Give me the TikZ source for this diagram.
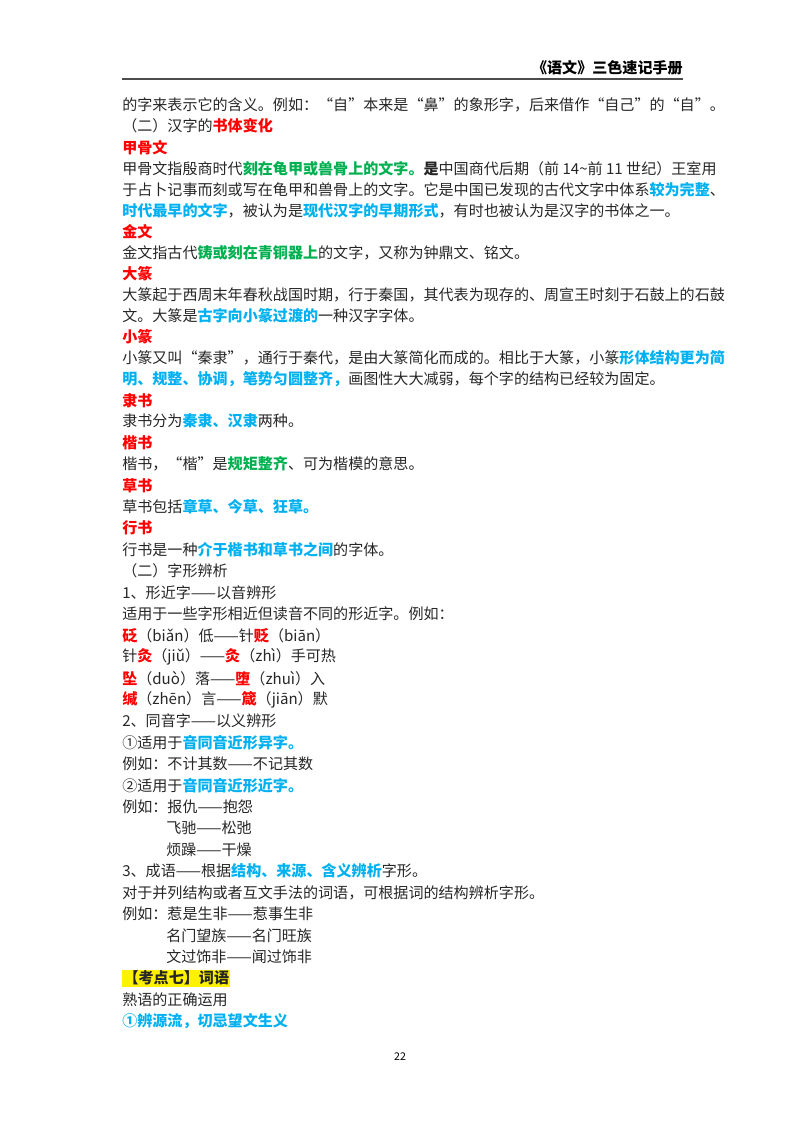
\documentclass[tikz,border=0pt]{standalone}
\usepackage{fontspec}
\setmainfont{Noto Sans CJK SC}
\definecolor{rd}{RGB}{255,0,0}
\definecolor{gr}{RGB}{0,176,80}
\definecolor{bl}{RGB}{0,176,240}
\newcommand{\R}[1]{\textcolor{rd}{\bfseries #1}}
\newcommand{\G}[1]{\textcolor{gr}{\bfseries #1}}
\newcommand{\B}[1]{\textcolor{bl}{\bfseries #1}}
\newcommand{\Rr}[1]{\textcolor{rd}{\bfseries #1}}
\setlength{\fboxsep}{1pt}
\begin{document}
\begin{tikzpicture}[x=0.75pt,y=-0.75pt,
  ln/.style={anchor=west,inner sep=0pt,font=\fontsize{11.3pt}{12pt}\selectfont,text=black!85}]
\useasboundingbox (0,0) rectangle (800,1132);
\node[anchor=east,inner sep=0pt,font=\fontsize{11.3pt}{12pt}\selectfont\bfseries] (hd) at (683,68) {《语文》三色速记手册};
\draw[line width=0.8pt,black!70] (122,79) -- (683,79);
\foreach \t [count=\i from 0] in {
 {的字来表示它的含义。例如：“自”本来是“鼻”的象形字，后来借作“自己”的“自”。},
 {（二）汉字的\R{书体变化}},
 {\R{甲骨文}},
 {甲骨文指殷商时代\G{刻在龟甲或兽骨上的文字。}\textbf{是}中国商代后期（前 14\textasciitilde 前 11 世纪）王室用},
 {于占卜记事而刻或写在龟甲和兽骨上的文字。它是中国已发现的古代文字中体系\B{较为完整}、},
 {\B{时代最早的文字}，被认为是\B{现代汉字的早期形式}，有时也被认为是汉字的书体之一。},
 {\R{金文}},
 {金文指古代\G{铸或刻在青铜器上}的文字，又称为钟鼎文、铭文。},
 {\R{大篆}},
 {大篆起于西周末年春秋战国时期，行于秦国，其代表为现存的、周宣王时刻于石鼓上的石鼓},
 {文。大篆是\B{古字向小篆过渡的}一种汉字字体。},
 {\R{小篆}},
 {小篆又叫“秦隶”，通行于秦代，是由大篆简化而成的。相比于大篆，小篆\B{形体结构更为简}},
 {\B{明、规整、协调，笔势匀圆整齐，}画图性大大减弱，每个字的结构已经较为固定。},
 {\R{隶书}}}
 { \node[ln] (a\i) at (122,{105+21.1*\i}) {\t}; }
\foreach \t [count=\i from 0] in {
 {隶书分为\B{秦隶、汉隶}两种。},
 {\R{楷书}},
 {楷书，“楷”是\G{规矩整齐}、可为楷模的意思。},
 {\R{草书}},
 {草书包括\B{章草、今草、狂草。}},
 {\R{行书}},
 {行书是一种\B{介于楷书和草书之间}的字体。},
 {（二）字形辨析},
 {1、形近字——以音辨形},
 {适用于一些字形相近但读音不同的形近字。例如：},
 {\Rr{砭}（biǎn）低——针\Rr{贬}（biān）},
 {针\Rr{灸}（jiǔ）——\Rr{灸}（zhì）手可热},
 {\Rr{坠}（duò）落——\Rr{堕}（zhuì）入},
 {\Rr{缄}（zhēn）言——\Rr{箴}（jiān）默},
 {2、同音字——以义辨形},
 {①适用于\B{音同音近形异字。}},
 {例如：不计其数——不记其数},
 {②适用于\B{音同音近形近字。}},
 {例如：报仇——抱怨},
 {\hspace*{33pt}飞驰——松弛},
 {\hspace*{33pt}烦躁——干燥},
 {3、成语——根据\B{结构、来源、含义辨析}字形。},
 {对于并列结构或者互文手法的词语，可根据词的结构辨析字形。},
 {例如：惹是生非——惹事生非},
 {\hspace*{33pt}名门望族——名门旺族},
 {\hspace*{33pt}文过饰非——闻过饰非},
 {\colorbox{yellow}{\textbf{【考点七】词语}}},
 {熟语的正确运用},
 {\B{①辨源流，切忌望文生义}}}
 { \node[ln] (b\i) at (122,{421+21.43*\i}) {\t}; }
\node[inner sep=0pt,font=\fontsize{8pt}{9pt}\selectfont] (pg) at (400,1057) {22};
\end{tikzpicture}
\end{document}
